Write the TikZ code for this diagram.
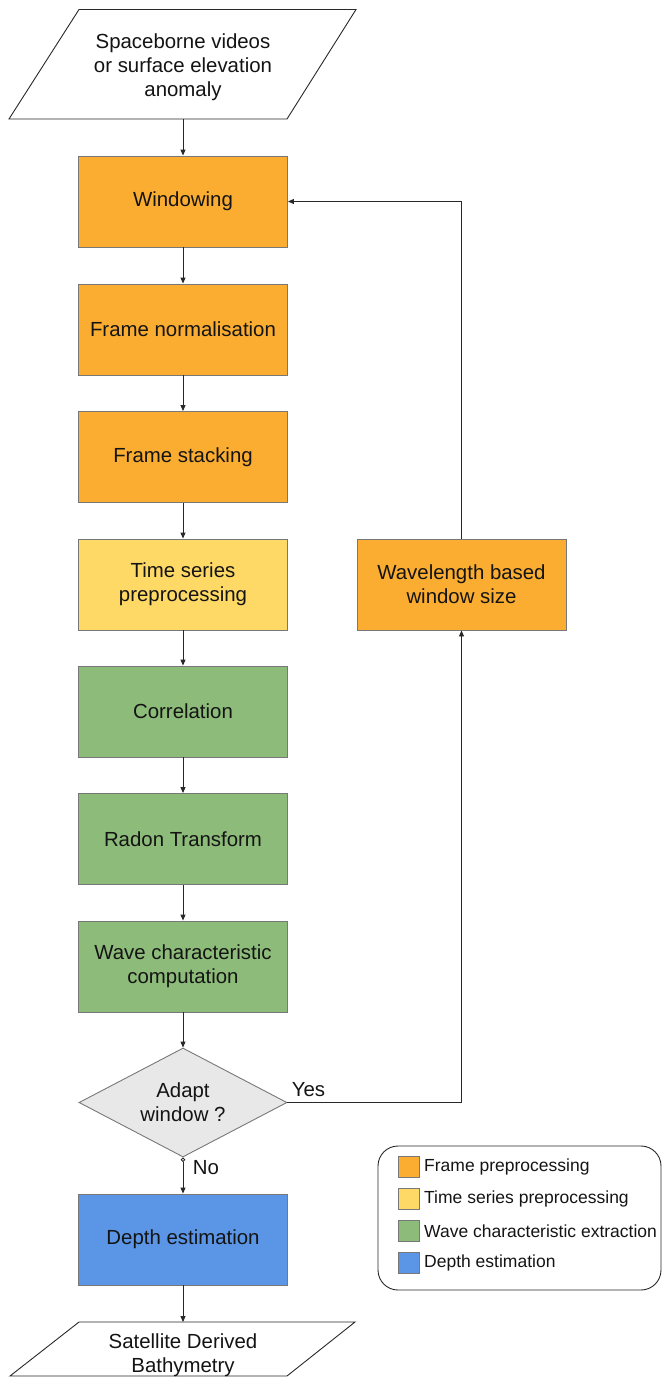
\documentclass[tikz,border=0pt]{standalone}
\usepackage{fontspec}
\setmainfont{Liberation Sans}
\usetikzlibrary{shapes.geometric,arrows.meta}
\definecolor{cOrange}{RGB}{251,173,49}
\definecolor{cYellow}{RGB}{255,217,102}
\definecolor{cGreen}{RGB}{141,187,121}
\definecolor{cBlue}{RGB}{91,149,230}
\definecolor{cGrey}{RGB}{232,232,232}
\definecolor{cBorder}{RGB}{120,120,120}
\definecolor{cLine}{RGB}{40,40,40}
\definecolor{cText}{RGB}{20,20,20}
\tikzset{
  mainfont/.style={font=\fontsize{20.4}{24}\selectfont, text=cText},
  procbox/.style={draw=cBorder, line width=0.9pt, minimum width=209pt, minimum height=91pt, inner sep=0pt, align=center, mainfont},
  orangebox/.style={procbox, fill=cOrange},
  yellowbox/.style={procbox, fill=cYellow},
  greenbox/.style={procbox, fill=cGreen},
  bluebox/.style={procbox, fill=cBlue},
  decbox/.style={diamond, draw=cBorder, fill=cGrey, line width=0.9pt, aspect=1.9, minimum width=208pt, minimum height=109pt, inner sep=0pt, align=center, mainfont},
  ioshape/.style={draw=cLine, line width=0.9pt, fill=white},
  conn/.style={draw=cLine, line width=0.9pt, -{Triangle[length=6pt,width=5pt]}},
  lbl/.style={mainfont},
  swatch/.style={draw=cBorder, line width=0.8pt, minimum width=21pt, minimum height=21pt, inner sep=0pt},
  legtext/.style={font=\fontsize{17.5}{21}\selectfont, text=cText, anchor=west, inner sep=0pt}
}
\begin{document}
\begin{tikzpicture}[x=1pt,y=-1pt]
\useasboundingbox (0,0) rectangle (663,1377);
% input parallelogram
\draw[ioshape] (79,9.5) -- (356,9.5) -- (287,119) -- (9,119) -- cycle;
\node[mainfont, align=center] (in) at (183,67) {Spaceborne videos\\or surface elevation\\anomaly};
\coordinate (inb) at (183,119);
% process boxes
\node[orangebox] (win) at (183,201.5) {Windowing};
\node[orangebox] (norm) at (183,329.5) {Frame normalisation};
\node[orangebox] (stack) at (183,457) {Frame stacking};
\node[yellowbox] (ts) at (183,584.5) {Time series\\preprocessing};
\node[greenbox] (corr) at (183,711.5) {Correlation};
\node[greenbox] (radon) at (183,839) {Radon Transform};
\node[greenbox] (wave) at (183,966.5) {Wave characteristic\\computation};
\node[decbox] (dec) at (183,1102.5) {Adapt\\window ?};
\node[bluebox] (depth) at (183,1239.5) {Depth estimation};
\node[orangebox] (wl) at (461.5,584.5) {Wavelength based\\window size};
% output parallelogram
\draw[ioshape] (79,1322) -- (355,1322) -- (287,1376) -- (10,1376) -- cycle;
\node[mainfont, align=center] (out) at (183,1355) {Satellite Derived\\Bathymetry};
\coordinate (outt) at (183,1322);
% connectors
\draw[conn] (inb) -- (win.north);
\draw[conn] (win.south) -- (norm.north);
\draw[conn] (norm.south) -- (stack.north);
\draw[conn] (stack.south) -- (ts.north);
\draw[conn] (ts.south) -- (corr.north);
\draw[conn] (corr.south) -- (radon.north);
\draw[conn] (radon.south) -- (wave.north);
\draw[conn] (wave.south) -- (dec.north);
\draw[draw=cLine, line width=0.9pt, {Circle[open,length=4.5pt,width=4.5pt]}-{Triangle[length=6pt,width=5pt]}] (dec.south) -- (depth.north);
\draw[conn] (depth.south) -- (outt);
\draw[conn] (dec.east) -| (wl.south);
\draw[conn] (wl.north) |- (win.east);
% labels
\node[lbl] (yes) at (308.5,1090) {Yes};
\node[lbl] (no) at (206,1168) {No};
% legend
\draw[draw=cLine, line width=0.9pt, rounded corners=20pt] (378,1146) rectangle (661,1290);
\node[swatch, fill=cOrange] (s1) at (409,1167) {};
\node[swatch, fill=cYellow] (s2) at (409,1199) {};
\node[swatch, fill=cGreen] (s3) at (409,1231) {};
\node[swatch, fill=cBlue] (s4) at (409,1263) {};
\node[legtext] (t1) at (424,1167) {Frame preprocessing};
\node[legtext] (t2) at (424,1199) {Time series preprocessing};
\node[legtext] (t3) at (424,1231) {Wave characteristic extraction};
\node[legtext] (t4) at (424,1263) {Depth estimation};
\end{tikzpicture}
\end{document}
